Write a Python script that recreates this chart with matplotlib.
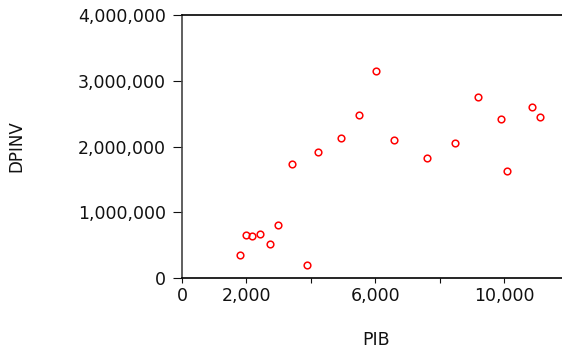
import matplotlib
matplotlib.use('Agg')
import matplotlib.pyplot as plt
from matplotlib.ticker import FuncFormatter

# dados
pib = [1790, 1990, 2160, 2420, 2720, 2970, 3400, 3870, 4210, 4940,
       5480, 6020, 6560, 7600, 8480, 9190, 9890, 10070, 10840, 11100]
dpinv = [345000, 654000, 634000, 664000, 522000, 801000, 1738000, 198000, 1916000, 2125000,
         2474000, 3148000, 2094000, 1820000, 2058000, 2748000, 2413000, 1627000, 2596000, 2444000]

xticks = [0, 2000, 4000, 6000, 8000, 10000]
xlabels = ['0', '2,000', '', '6,000', '', '10,000']
yticks = [0, 1000000, 2000000, 3000000, 4000000]

fig = plt.figure(figsize=(5.62, 3.51), dpi=100)
ax = fig.add_axes([182/562, 73/351, 380/562, 263/351])

ax.plot(pib, dpinv, 'o', ms=4.8, mfc='none', mec='red', mew=1.1)

ax.set_xlim(0, 11783)
ax.set_ylim(0, 4000000)
ax.set_xticks(xticks)
ax.set_xticklabels(xlabels)
ax.set_yticks(yticks)
ax.yaxis.set_major_formatter(FuncFormatter(lambda v, p: f'{int(v):,}'))

ax.spines['right'].set_visible(False)
for s in ['left', 'top', 'bottom']:
    ax.spines[s].set_linewidth(1.2)
ax.spines['left'].set_color('#444444')

ax.tick_params(axis='y', direction='out', length=6.5, width=0.8, pad=5, labelsize=12.5, colors='#111111')
ax.tick_params(axis='x', direction='out', length=3.6, width=0.8, pad=3, labelsize=12.5, colors='#111111')

ax.set_xlabel('PIB', fontsize=12.5, color='#111111')
ax.xaxis.set_label_coords(0.51, -0.2)
ax.set_ylabel('DPINV', fontsize=12, family=['Liberation Sans Narrow', 'DejaVu Sans'], color='#111111')
ax.yaxis.set_label_coords(-0.413, 0.5)

plt.savefig('out.png', dpi=100)
